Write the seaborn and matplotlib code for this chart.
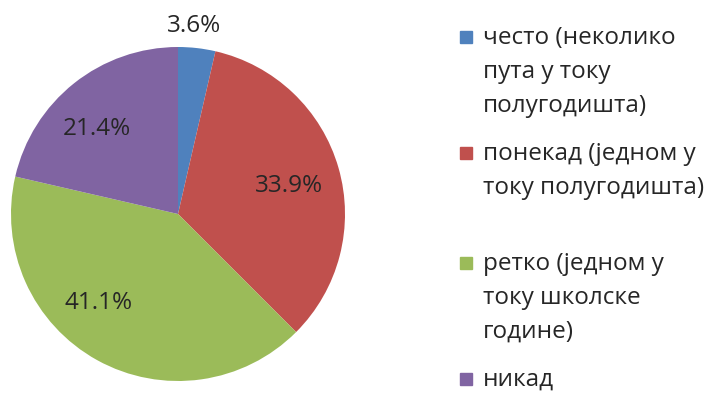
import matplotlib
matplotlib.use('Agg')
import matplotlib.pyplot as plt
import seaborn as sns
from matplotlib.patches import Rectangle

sns.set_style('white')
plt.rcParams['font.family'] = ['Open Sans', 'DejaVu Sans']

# Data
categories = ['често (неколико\nпута у току\nполугодишта)',
              'понекад (једном у\nтоку полугодишта)',
              'ретко (једном у\nтоку школске\nгодине)',
              'никад']
shares = [3.6, 33.9, 41.1, 21.4]
colors = ['#4F81BD', '#C0504D', '#9BBB59', '#8064A2']

# label placement (pie units, radius = 1)
label_x = [0.096, 0.665, -0.473, -0.485]
label_y = [1.13, 0.174, -0.527, 0.515]

W, H = 705, 402
fig = plt.figure(figsize=(W / 100, H / 100), dpi=100)

cx, cy, r = 178, 215, 167
ax = fig.add_axes([(cx - r) / W, (H - cy - r) / H, 2 * r / W, 2 * r / H])
ax.pie(shares, colors=colors, startangle=90, counterclock=False,
       wedgeprops=dict(linewidth=0))
ax.set_xlim(-1, 1)
ax.set_ylim(-1, 1)
ax.set_aspect('equal')
ax.axis('off')

for v, x, y in zip(shares, label_x, label_y):
    ax.text(x, y, f'{v:.1f}%', ha='center', va='center', fontsize=17.5,
            color='#262626', clip_on=False)

# legend drawn by hand to keep the uneven spacing
entry_y = [38, 154, 264, 380]
line_h = 34
sq = 12
for lab, c, ey in zip(categories, colors, entry_y):
    fig.patches.append(Rectangle((460 / W, (H - ey - sq / 2) / H), sq / W, sq / H,
                                 transform=fig.transFigure, color=c))
    for i, line in enumerate(lab.split('\n')):
        fig.text(483 / W, (H - ey - i * line_h) / H, line, ha='left', va='center',
                 fontsize=17.5, color='#262626')

fig.savefig('out.png', dpi=100)
